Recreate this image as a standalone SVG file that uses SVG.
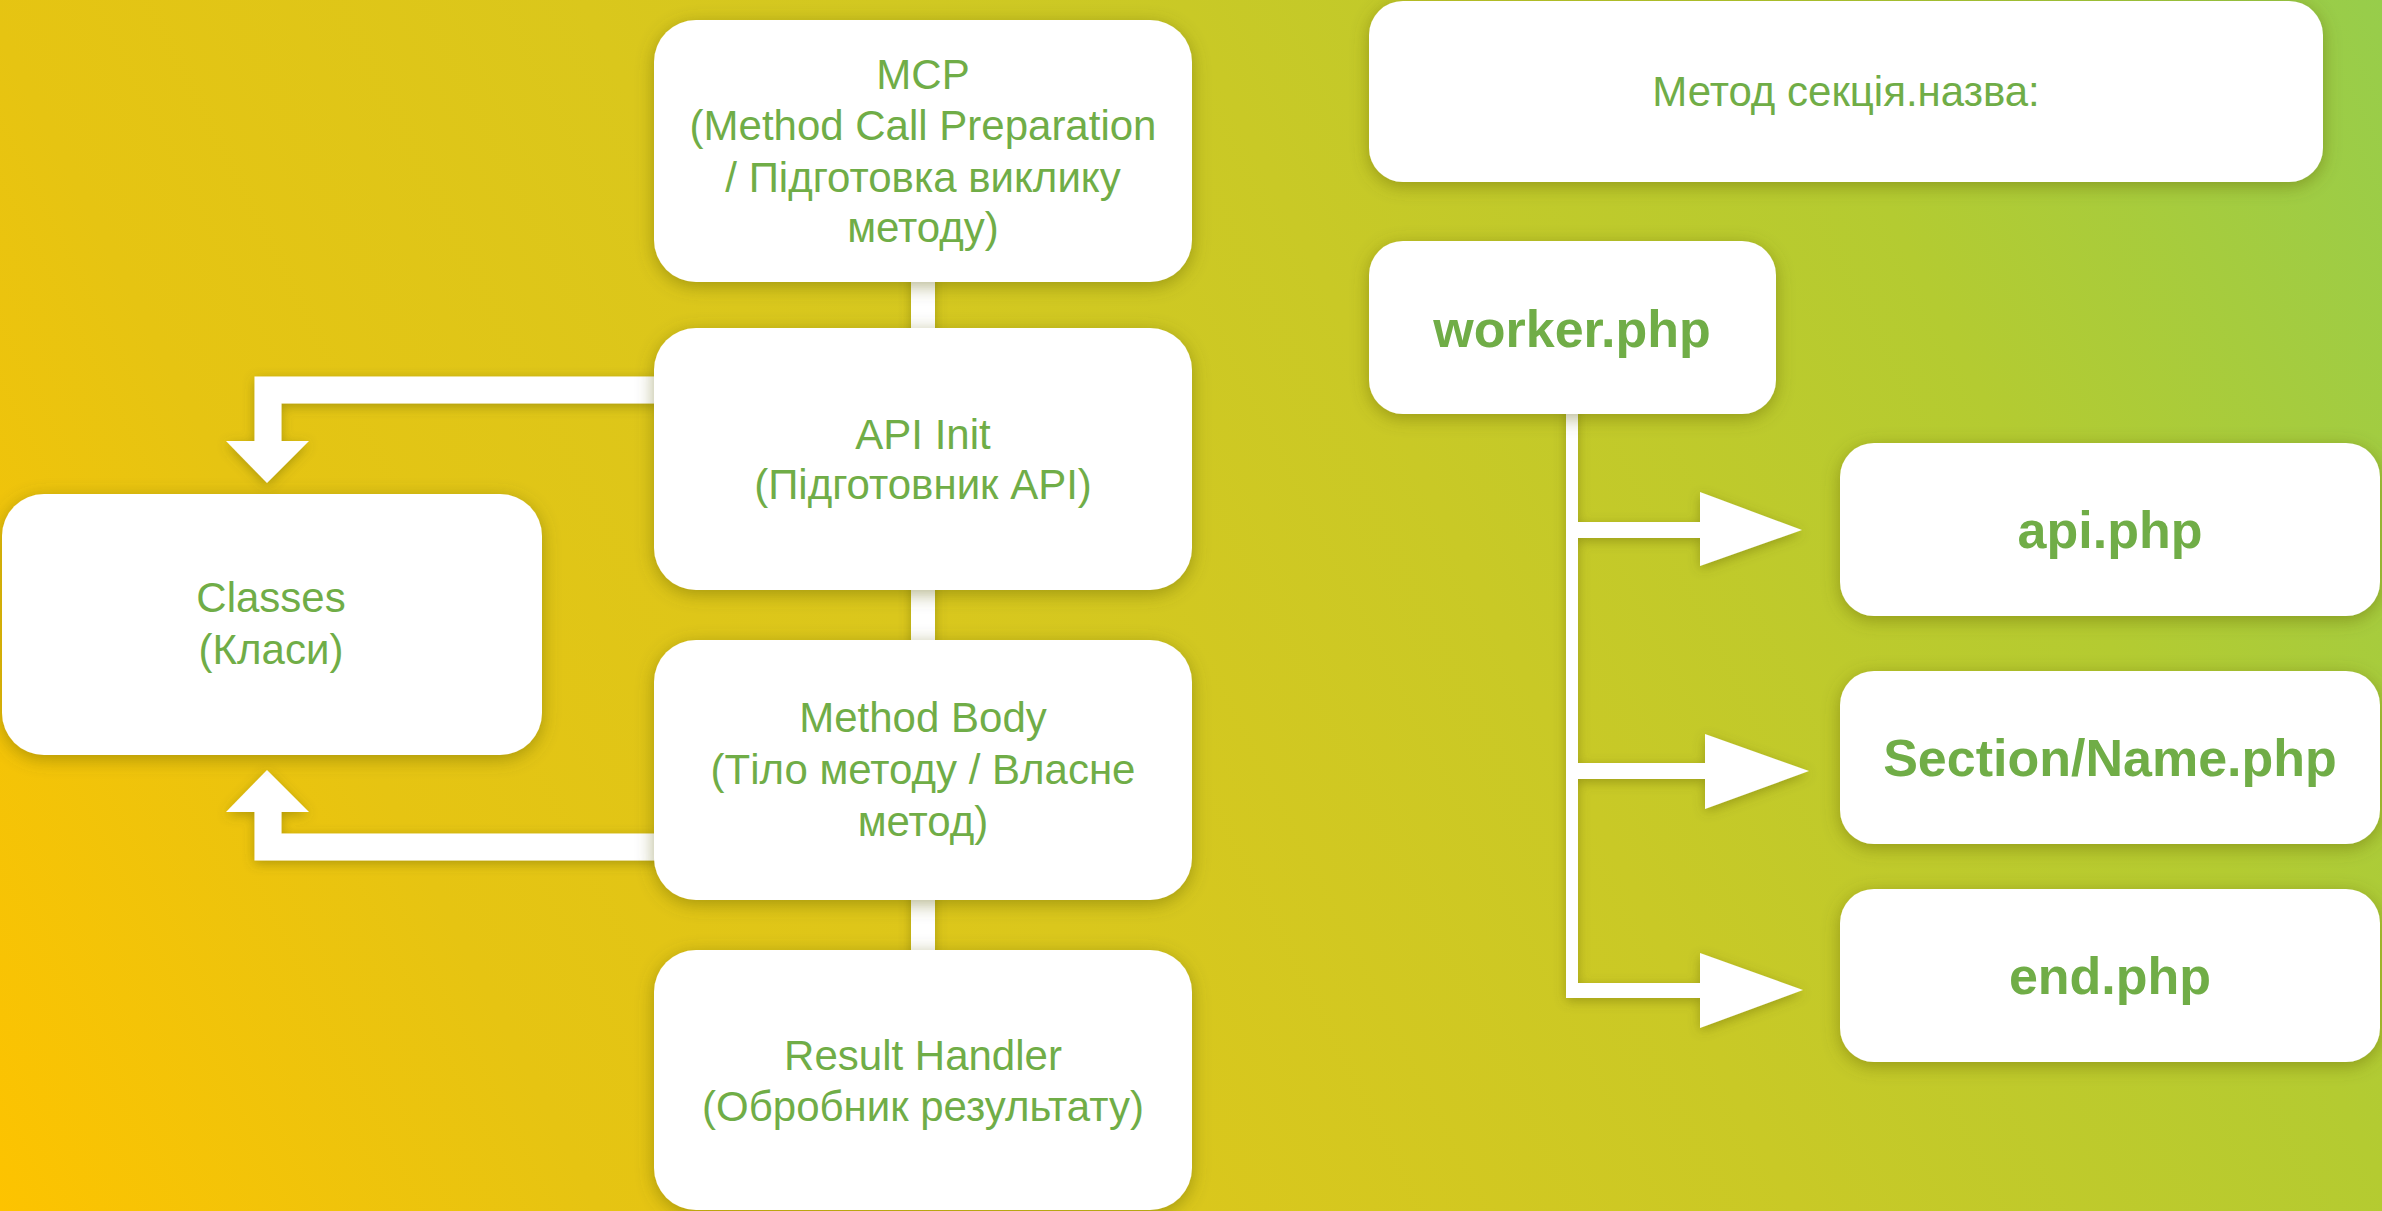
<svg xmlns="http://www.w3.org/2000/svg" width="2382" height="1211" viewBox="0 0 2382 1211">
<defs>
<linearGradient id="bg" gradientUnits="userSpaceOnUse" x1="0" y1="1211" x2="2382" y2="0">
<stop offset="0" stop-color="#fdc300"/>
<stop offset="0.2" stop-color="#e6c412"/>
<stop offset="0.4" stop-color="#dac71c"/>
<stop offset="0.6" stop-color="#c9c926"/>
<stop offset="0.8" stop-color="#b4cb31"/>
<stop offset="1" stop-color="#97cd4b"/>
</linearGradient>
<filter id="sh" x="-20%" y="-20%" width="140%" height="140%">
<feDropShadow dx="0" dy="4" stdDeviation="9" flood-color="#5a5a00" flood-opacity="0.45"/>
</filter>
<filter id="sha" x="-20%" y="-20%" width="140%" height="140%">
<feDropShadow dx="0" dy="3" stdDeviation="6" flood-color="#5a5a00" flood-opacity="0.4"/>
</filter>
<style>
.box{fill:#ffffff;filter:url(#sh);}
.t{font-family:"Liberation Sans",Arial,sans-serif;font-size:42px;fill:#70ad47;text-anchor:middle;}
.b{font-family:"Liberation Sans",Arial,sans-serif;font-size:52px;font-weight:bold;fill:#70ad47;text-anchor:middle;}
.bar{stroke:#ffffff;fill:none;}
.head{fill:#ffffff;}
</style>
</defs>
<rect x="0" y="0" width="2382" height="1211" fill="url(#bg)"/>

<g id="connectors" filter="url(#sha)">
<line class="bar" x1="923" y1="270" x2="923" y2="960" stroke-width="24"/>
<path class="bar" d="M660,390 H268 V442" stroke-width="27"/>
<polygon class="head" points="226,441 309,441 267,483"/>
<path class="bar" d="M660,847 H268 V811" stroke-width="27"/>
<polygon class="head" points="226,812 309,812 267,770"/>
<line class="bar" x1="1572" y1="405" x2="1572" y2="998" stroke-width="12"/>
<line class="bar" x1="1566" y1="530" x2="1701" y2="530" stroke-width="16"/>
<polygon class="head" points="1700,492 1700,566 1802,530"/>
<line class="bar" x1="1566" y1="771" x2="1706" y2="771" stroke-width="16"/>
<polygon class="head" points="1705,734 1705,809 1809,771"/>
<line class="bar" x1="1566" y1="990.5" x2="1701" y2="990.5" stroke-width="15"/>
<polygon class="head" points="1700,953 1700,1028 1803,990"/>
</g>

<g id="mcp">
<rect class="box" x="654" y="20" width="538" height="262" rx="42"/>
<text class="t" x="923" y="89">MCP</text>
<text class="t" x="923" y="140">(Method Call Preparation</text>
<text class="t" x="923" y="192">/ Підготовка виклику</text>
<text class="t" x="923" y="242">методу)</text>
</g>
<g id="api-init">
<rect class="box" x="654" y="328" width="538" height="262" rx="42"/>
<text class="t" x="923" y="449">API Init</text>
<text class="t" x="923" y="499">(Підготовник API)</text>
</g>
<g id="method-body">
<rect class="box" x="654" y="640" width="538" height="260" rx="42"/>
<text class="t" x="923" y="732">Method Body</text>
<text class="t" x="923" y="784">(Тіло методу / Власне</text>
<text class="t" x="923" y="836">метод)</text>
</g>
<g id="result-handler">
<rect class="box" x="654" y="950" width="538" height="260" rx="42"/>
<text class="t" x="923" y="1070">Result Handler</text>
<text class="t" x="923" y="1121">(Обробник результату)</text>
</g>
<g id="classes">
<rect class="box" x="2" y="494" width="540" height="261" rx="42"/>
<text class="t" x="271" y="612">Classes</text>
<text class="t" x="271" y="664">(Класи)</text>
</g>
<g id="method-title">
<rect class="box" x="1369" y="1" width="954" height="181" rx="34"/>
<text class="t" x="1846" y="106">Метод секція.назва:</text>
</g>
<g id="worker">
<rect class="box" x="1369" y="241" width="407" height="173" rx="34"/>
<text class="b" x="1572" y="347">worker.php</text>
</g>
<g id="api-php">
<rect class="box" x="1840" y="443" width="540" height="173" rx="34"/>
<text class="b" x="2110" y="548">api.php</text>
</g>
<g id="section-name">
<rect class="box" x="1840" y="671" width="540" height="173" rx="34"/>
<text class="b" x="2110" y="776">Section/Name.php</text>
</g>
<g id="end-php">
<rect class="box" x="1840" y="889" width="540" height="173" rx="34"/>
<text class="b" x="2110" y="994">end.php</text>
</g>
</svg>
